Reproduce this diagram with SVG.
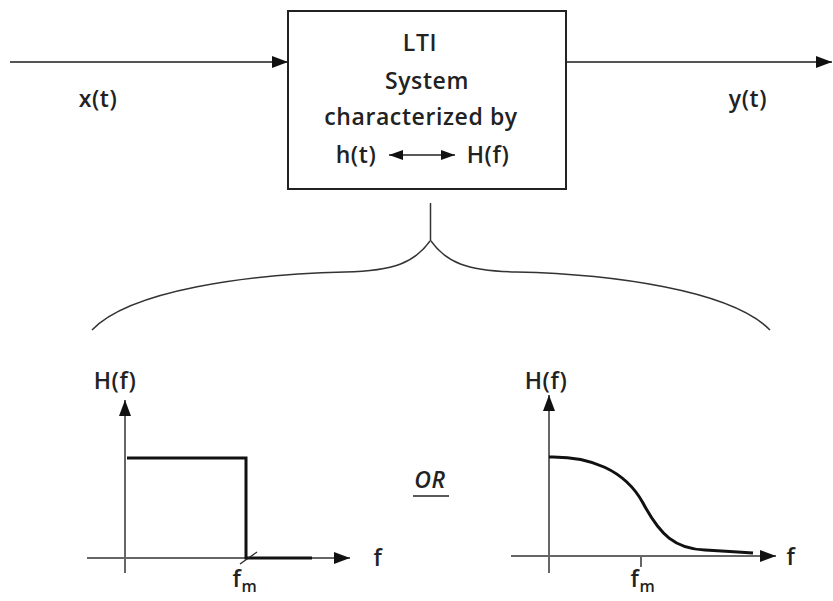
<svg xmlns="http://www.w3.org/2000/svg" width="833" height="601" viewBox="0 0 833 601">
<defs>
<marker id="ah" markerWidth="16" markerHeight="12" refX="16" refY="6" orient="auto" markerUnits="userSpaceOnUse">
<path d="M0,0 L16,6 L0,12 Z" fill="#111"/>
</marker>
<marker id="ahs" markerWidth="14" markerHeight="10" refX="14" refY="5" orient="auto-start-reverse" markerUnits="userSpaceOnUse">
<path d="M0,0 L14,5 L0,10 Z" fill="#111"/>
</marker>
</defs>
<style>
text{font-family:"Open Sans","DejaVu Sans",sans-serif;font-weight:600;font-size:23px;letter-spacing:0.6px;fill:#222}
.axis{stroke:#666;stroke-width:2;fill:none}
.wire{stroke:#555;stroke-width:2;fill:none}
.plot{stroke:#111;stroke-width:3;fill:none}
.thin{stroke:#333;stroke-width:1.5;fill:none}
.sub{font-size:16px}
</style>
<rect width="833" height="601" fill="#fff"/>
<g id="connectors">
<line class="wire" x1="10" y1="62" x2="288" y2="62" marker-end="url(#ah)"/>
<line class="wire" x1="566" y1="62" x2="832" y2="62" marker-end="url(#ah)"/>
<line class="thin" x1="430.5" y1="203" x2="430.5" y2="241"/>
<path class="thin" d="M430,241 C415,262 395,271 345,272 C250,274 130,290 92,330"/>
<path class="thin" d="M431,241 C446,262 466,271 516,272 C611,274 731,290 770,330"/>
</g>
<g id="input-label"><text x="98" y="107" text-anchor="middle">x(t)</text></g>
<g id="output-label"><text x="748" y="107" text-anchor="middle">y(t)</text></g>
<g id="lti-box">
<rect x="288" y="11" width="278" height="178" fill="#fff" stroke="#222" stroke-width="2"/>
<text x="420" y="51" text-anchor="middle">LTI</text>
<text x="427" y="89" text-anchor="middle">System</text>
<text x="421" y="125" text-anchor="middle">characterized by</text>
<text x="356" y="163" text-anchor="middle">h(t)</text>
<line x1="389" y1="155" x2="455" y2="155" stroke="#222" stroke-width="1.5" marker-start="url(#ahs)" marker-end="url(#ahs)"/>
<text x="488" y="163" text-anchor="middle">H(f)</text>
</g>
<g id="ideal-filter">
<text x="115" y="389" text-anchor="middle">H(f)</text>
<line class="axis" x1="125" y1="573" x2="125" y2="400" marker-end="url(#ah)"/>
<line class="axis" x1="87" y1="558" x2="350" y2="558" marker-end="url(#ah)"/>
<polyline class="plot" points="127,458 246,458 246,558 312,558"/>
<line x1="240" y1="564" x2="257" y2="552" stroke="#222" stroke-width="1.2"/>
<text x="378" y="566" text-anchor="middle">f</text>
<text x="245" y="587" text-anchor="middle">f<tspan class="sub" dy="5">m</tspan></text>
</g>
<g id="or-label">
<text x="430" y="488" text-anchor="middle" font-style="italic">OR</text>
<line x1="413" y1="496" x2="449" y2="496" stroke="#222" stroke-width="1.5"/>
</g>
<g id="real-filter">
<text x="546" y="389" text-anchor="middle">H(f)</text>
<line class="axis" x1="549" y1="573" x2="549" y2="395" marker-end="url(#ah)"/>
<line class="axis" x1="511" y1="556" x2="776" y2="556" marker-end="url(#ah)"/>
<line class="axis" x1="641" y1="556" x2="641" y2="567"/>
<path class="plot" d="M549,457 C590,456 625,470 643,503 C660,535 675,549 705,550 C725,551 740,552 753,553"/>
<text x="791" y="565" text-anchor="middle">f</text>
<text x="643" y="587" text-anchor="middle">f<tspan class="sub" dy="5">m</tspan></text>
</g>
</svg>
